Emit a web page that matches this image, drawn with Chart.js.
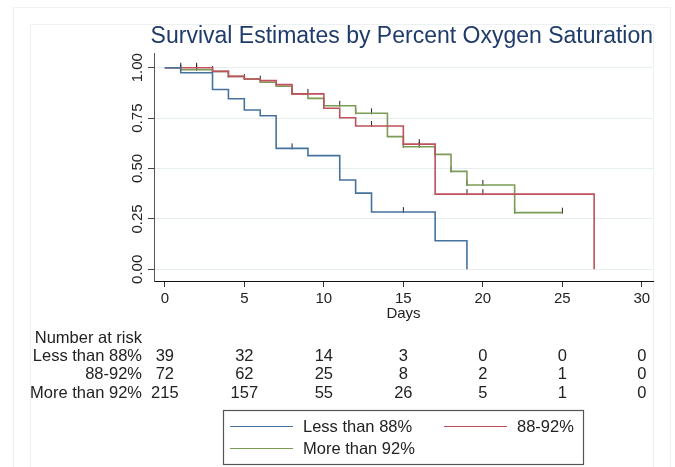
<!DOCTYPE html>
<html>
<head>
<meta charset="utf-8">
<script src="https://cdn.jsdelivr.net/npm/chart.js@4.4.1/dist/chart.umd.min.js"></script>
<style>
    html, body { margin: 0; padding: 0; background: #fff; }
    #wrap { width: 675px; height: 467px; }
</style>
</head>
<body>
<div id="wrap"><canvas id="kmChart"></canvas></div>
<script>
// Kaplan-Meier steps (day of drop, survival after it)
const groupNames = ['Less than 88%', '88-92%', 'More than 92%'];

const lowDays = [0, 1, 3, 4, 5, 6, 7, 9, 11, 12, 13, 17, 19];
const lowSurv = [1, 0.975, 0.892, 0.846, 0.79, 0.762, 0.60, 0.564, 0.443, 0.378, 0.284, 0.142, 0];
const lowCensored = [8, 15];

const midDays = [0, 3, 4, 5, 6, 7, 8, 10, 11, 12, 15, 17, 27];
const midSurv = [1, 0.982, 0.957, 0.944, 0.936, 0.916, 0.870, 0.799, 0.752, 0.711, 0.621, 0.373, 0];
const midCensored = [1, 2, 3, 6, 9, 13, 14, 16, 19, 20];

const highDays = [0, 1, 3, 4, 5, 6, 7, 8, 9, 10, 12, 14, 15, 17, 18, 19, 22, 25];
const highSurv = [1, 0.99, 0.982, 0.957, 0.944, 0.928, 0.908, 0.870, 0.848, 0.811, 0.774, 0.658, 0.608, 0.570, 0.486, 0.418, 0.281, 0.281];
const highCensored = [1, 2, 3, 4, 5, 8, 11, 12, 13, 15, 16, 17, 18, 19, 20, 22, 25];

// Number at risk table
const riskDays = [0, 5, 10, 15, 20, 25, 30];
const riskLow = [39, 32, 14, 3, 0, 0, 0];
const riskMid = [72, 62, 25, 8, 2, 1, 0];
const riskHigh = [215, 157, 55, 26, 5, 1, 0];

// Axis ticks
const xTicks = [0, 5, 10, 15, 20, 25, 30];
const yTicks = [0, 0.25, 0.5, 0.75, 1];
const yTickLabels = ['0.00', '0.25', '0.50', '0.75', '1.00'];

const fontFamily = "'Liberation Sans', Arial, Helvetica, sans-serif";
const textColor = '#222';
const colors = {
    low: '#46729e',
    mid: '#c0505b',
    high: '#7a9c55'
};

Chart.defaults.font.family = fontFamily;
Chart.defaults.color = textColor;

// survival value of a step curve at day t
function survAt(days, surv, t) {
    let v = surv[0];
    for (let i = 0; i < days.length; i++) {
        if (days[i] <= t) v = surv[i];
    }
    return v;
}

function stepPoints(days, surv) {
    return days.map((d, i) => ({ x: d, y: surv[i] }));
}

function censorPoints(days, surv, censored) {
    return censored.map(t => ({ x: t, y: survAt(days, surv, t) }));
}

// small vertical tick for censored observations
const censorMark = document.createElement('canvas');
censorMark.width = 3;
censorMark.height = 12;
const cm = censorMark.getContext('2d');
cm.fillStyle = '#222';
cm.fillRect(1, 1, 1, 6);

function stepDataset(label, days, surv, color) {
    return {
        type: 'line',
        label: label,
        data: stepPoints(days, surv),
        borderColor: color,
        backgroundColor: color,
        borderWidth: 1.6,
        stepped: true,
        pointRadius: 0,
        fill: false
    };
}

function censorDataset(days, surv, censored) {
    return {
        type: 'scatter',
        label: 'censored',
        data: censorPoints(days, surv, censored),
        pointStyle: censorMark,
        pointRadius: 3,
        showLine: false
    };
}

// faint frames behind the figure
const framePlugin = {
    id: 'frames',
    beforeDraw(chart) {
        const ctx = chart.ctx;
        ctx.save();
        ctx.strokeStyle = '#edf1f2';
        ctx.lineWidth = 1;
        ctx.strokeRect(13.5, 7.5, 657, 500);
        ctx.strokeRect(30.5, 24.5, 623, 500);
        ctx.restore();
    }
};

// rotated y labels, risk table and legend box
const extrasPlugin = {
    id: 'extras',
    afterDraw(chart) {
        const ctx = chart.ctx;
        const xs = chart.scales.x;
        const ys = chart.scales.y;
        ctx.save();
        ctx.fillStyle = textColor;
        ctx.font = '15px ' + fontFamily;

        // y tick labels
        ctx.textAlign = 'center';
        ctx.textBaseline = 'middle';
        yTicks.forEach((v, i) => {
            ctx.save();
            ctx.translate(137.5, ys.getPixelForValue(v));
            ctx.rotate(-Math.PI / 2);
            ctx.fillText(yTickLabels[i], 0, 0);
            ctx.restore();
        });

        // number at risk
        ctx.font = '16.5px ' + fontFamily;
        ctx.textBaseline = 'alphabetic';
        ctx.textAlign = 'right';
        ctx.fillText('Number at risk', 142, 342.5);
        const rows = [riskLow, riskMid, riskHigh];
        rows.forEach((row, r) => {
            const y = 361 + r * 18.4;
            ctx.textAlign = 'right';
            ctx.fillText(groupNames[r], 142, y);
            ctx.textAlign = 'center';
            row.forEach((n, i) => {
                ctx.fillText(String(n), xs.getPixelForValue(riskDays[i]), y);
            });
        });

        // legend
        ctx.strokeStyle = '#555';
        ctx.lineWidth = 1.2;
        ctx.strokeRect(223.5, 410.5, 360, 54);
        const slots = [
            { x: 230, y: 426 },
            { x: 444, y: 426 },
            { x: 230, y: 448 }
        ];
        const lineColors = [colors.low, colors.mid, colors.high];
        ctx.textAlign = 'left';
        slots.forEach((s, i) => {
            ctx.strokeStyle = lineColors[i];
            ctx.lineWidth = 1.2;
            ctx.beginPath();
            ctx.moveTo(s.x, s.y + 0.5);
            ctx.lineTo(s.x + 63, s.y + 0.5);
            ctx.stroke();
            ctx.fillText(groupNames[i], s.x + 73, s.y + 6);
        });
        ctx.restore();
    }
};

new Chart(document.getElementById('kmChart'), {
    data: {
        datasets: [
            stepDataset(groupNames[0], lowDays, lowSurv, colors.low),
            stepDataset(groupNames[1], midDays, midSurv, colors.mid),
            stepDataset(groupNames[2], highDays, highSurv, colors.high),
            censorDataset(lowDays, lowSurv, lowCensored),
            censorDataset(midDays, midSurv, midCensored),
            censorDataset(highDays, highSurv, highCensored)
        ]
    },
    options: {
        responsive: true,
        maintainAspectRatio: false,
        animation: false,
        events: [],
        layout: {
            padding: { left: 0, right: 22, top: 0, bottom: 144 }
        },
        scales: {
            x: {
                type: 'linear',
                min: -0.68,
                max: 30.7,
                afterBuildTicks: scale => {
                    scale.ticks = xTicks.map(v => ({ value: v }));
                },
                afterFit: scale => {
                    scale.height = 42;
                },
                border: { color: '#111', width: 1 },
                grid: {
                    drawOnChartArea: false,
                    tickLength: 6,
                    tickColor: '#333'
                },
                ticks: {
                    font: { size: 15 },
                    color: textColor,
                    padding: 3,
                    maxRotation: 0,
                    autoSkip: false
                },
                title: {
                    display: true,
                    text: 'Days',
                    font: { size: 15 },
                    color: textColor,
                    padding: 0
                }
            },
            y: {
                type: 'linear',
                min: -0.058,
                max: 1.073,
                afterBuildTicks: scale => {
                    scale.ticks = yTicks.map(v => ({ value: v }));
                },
                afterFit: scale => {
                    scale.width = 154;
                },
                border: { color: '#555', width: 1 },
                grid: {
                    color: '#e6eef0',
                    tickColor: '#444',
                    tickLength: 6
                },
                ticks: {
                    display: false
                }
            }
        },
        plugins: {
            legend: {
                display: false
            },
            tooltip: {
                enabled: false
            },
            title: {
                display: true,
                text: 'Survival Estimates by Percent Oxygen Saturation',
                align: 'end',
                color: '#1f3b6b',
                font: { size: 23, weight: 'normal' },
                padding: { top: 23, bottom: 2.4 }
            }
        }
    },
    plugins: [framePlugin, extrasPlugin]
});
</script>
</body>
</html>
